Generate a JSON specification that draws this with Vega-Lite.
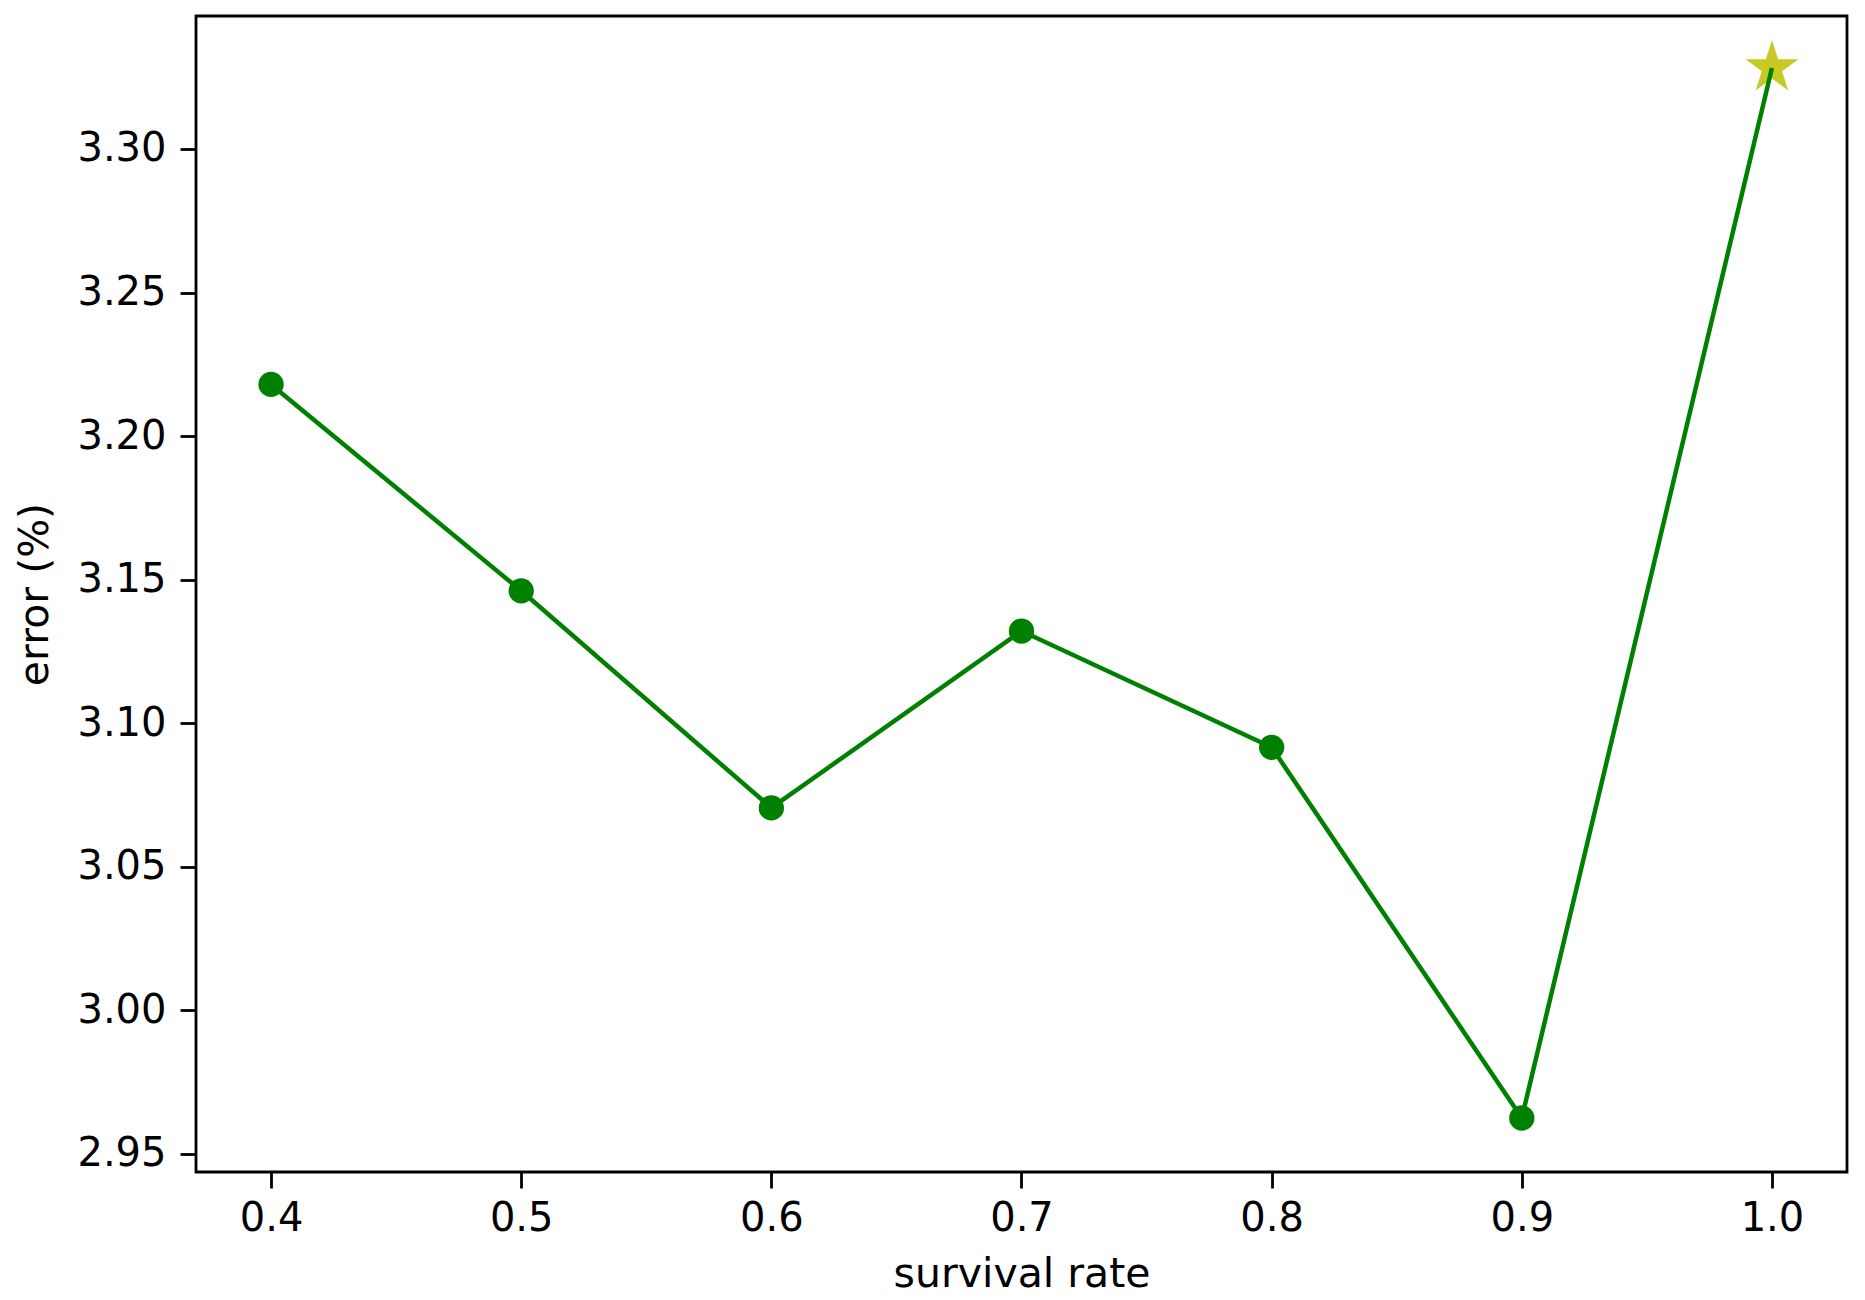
{
  "$schema": "https://vega.github.io/schema/vega-lite/v6.json",
  "autosize": "none",
  "padding": {"left": 196, "top": 16, "right": 18, "bottom": 128},
  "width": 1651,
  "height": 1156,
  "background": "white",
  "config": {
    "view": {"stroke": "black", "strokeWidth": 2.8},
    "axis": {
      "domain": false,
      "grid": false,
      "ticks": true,
      "tickColor": "black",
      "tickSize": 16,
      "tickWidth": 2.8,
      "labelFont": "DejaVu Sans",
      "labelFontSize": 40,
      "labelColor": "black",
      "labelPadding": 14,
      "titleFont": "DejaVu Sans",
      "titleFontSize": 41,
      "titleFontWeight": "normal",
      "titleColor": "black"
    }
  },
  "data": {
    "values": [
      {"rate": 0.4, "error": 3.218, "marker": "circle"},
      {"rate": 0.5, "error": 3.1461, "marker": "circle"},
      {"rate": 0.6, "error": 3.0705, "marker": "circle"},
      {"rate": 0.7, "error": 3.1321, "marker": "circle"},
      {"rate": 0.8, "error": 3.0916, "marker": "circle"},
      {"rate": 0.9, "error": 2.9625, "marker": "circle"},
      {"rate": 1.0, "error": 3.3282, "marker": "star"}
    ]
  },
  "encoding": {
    "x": {
      "field": "rate",
      "type": "quantitative",
      "title": "survival rate",
      "scale": {"domain": [0.37, 1.03], "nice": false, "zero": false},
      "axis": {"values": [0.4, 0.5, 0.6, 0.7, 0.8, 0.9, 1.0], "format": ".1f", "labelPadding": 10, "titlePadding": 16}
    },
    "y": {
      "field": "error",
      "type": "quantitative",
      "title": "error (%)",
      "scale": {"domain": [2.9437, 3.3463], "nice": false, "zero": false},
      "axis": {"values": [2.95, 3.0, 3.05, 3.1, 3.15, 3.2, 3.25, 3.3], "format": ".2f", "titlePadding": 20}
    }
  },
  "layer": [
    {
      "transform": [{"filter": "datum.marker === 'star'"}],
      "mark": {
        "type": "point",
        "shape": "M0,-1L0.2245,-0.309L0.951,-0.309L0.3633,0.118L0.5878,0.809L0,0.382L-0.5878,0.809L-0.3633,0.118L-0.951,-0.309L-0.2245,-0.309Z",
        "filled": true,
        "fill": "#bfbf00",
        "opacity": 0.85,
        "size": 3100,
        "strokeWidth": 0
      }
    },
    {
      "mark": {"type": "line", "color": "#008000", "strokeWidth": 4.5}
    },
    {
      "transform": [{"filter": "datum.marker === 'circle'"}],
      "mark": {
        "type": "point",
        "shape": "circle",
        "filled": true,
        "fill": "#008000",
        "opacity": 1,
        "size": 640,
        "strokeWidth": 0
      }
    }
  ]
}
